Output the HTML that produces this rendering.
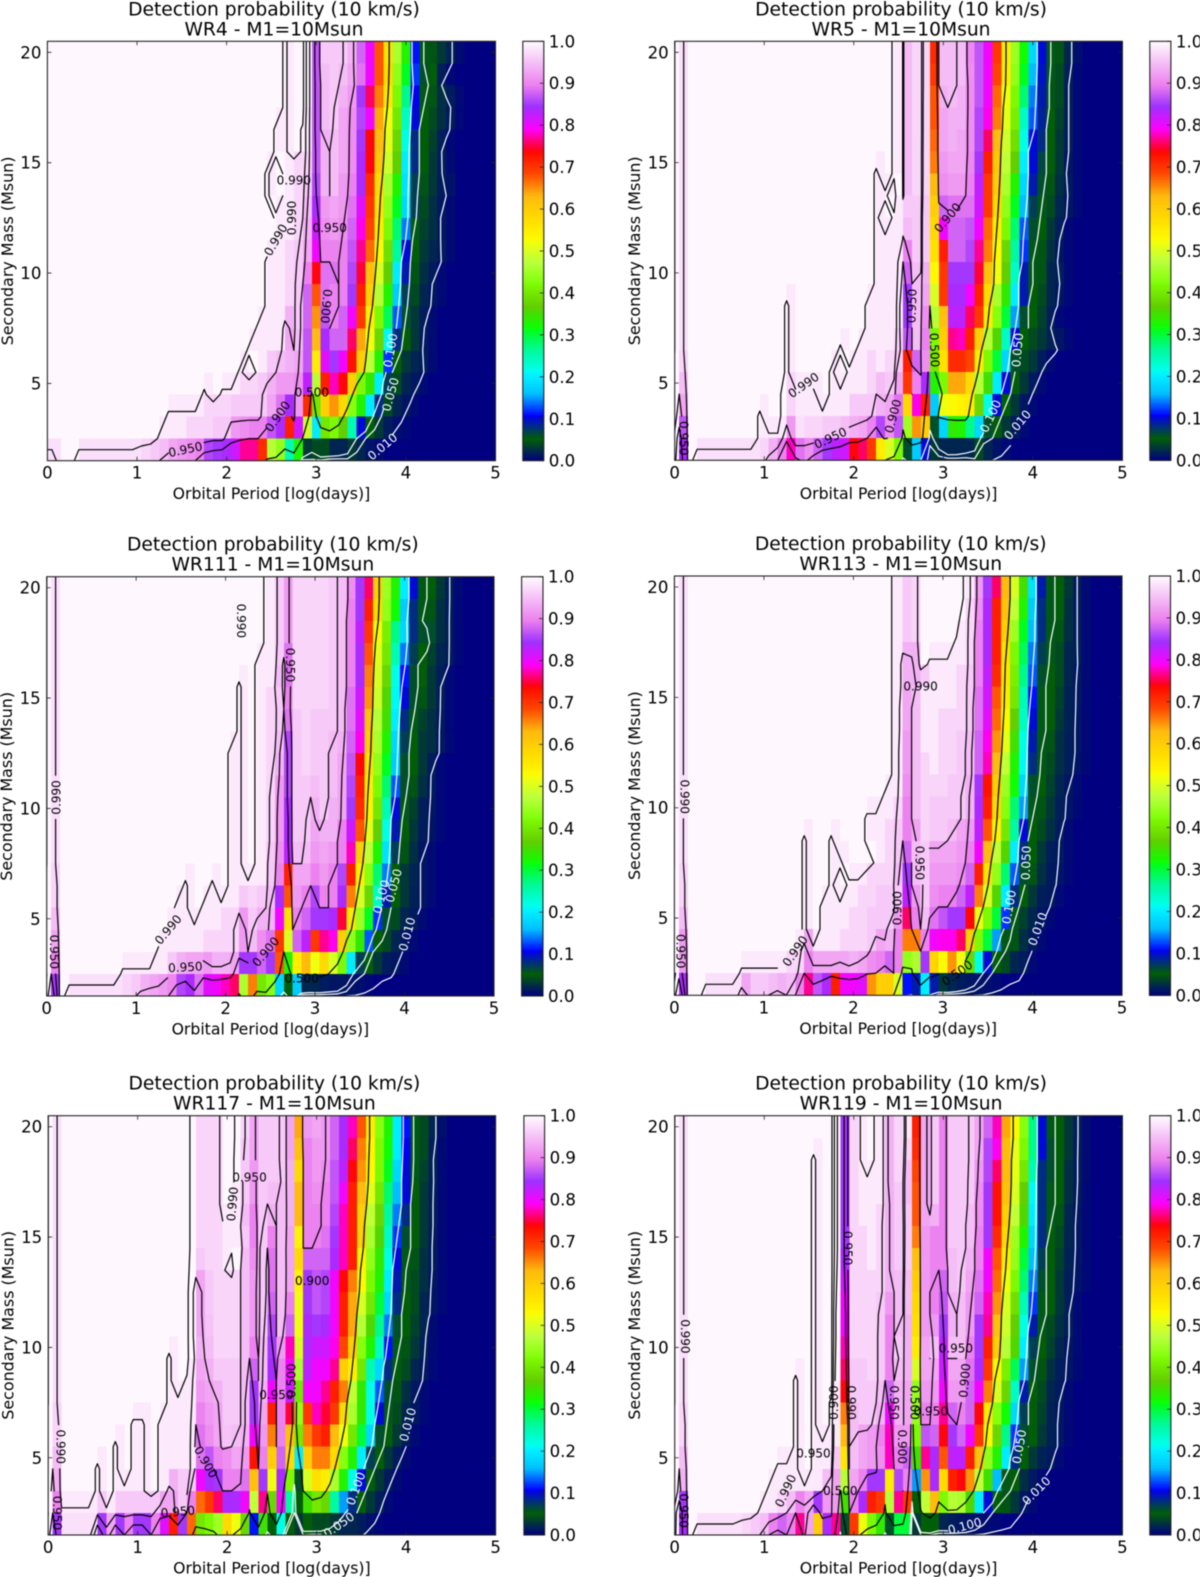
<!DOCTYPE html>
<html lang="en">
<head>
<meta charset="utf-8">
<title>Detection probability maps</title>
<style>
html,body{margin:0;padding:0;background:#fff;width:1200px;height:1577px;overflow:hidden}
svg{display:block;filter:blur(.4px)}
text{font-family:"DejaVu Sans","Liberation Sans",sans-serif;fill:#000}
</style>
</head>
<body>
<svg id="figure" xmlns="http://www.w3.org/2000/svg" width="1200" height="1577" viewBox="0 0 1200 1577"></svg>
<script>
const periods=[0,.1,.2,.3,.4,.5,.6,.7,.8,.9,1,1.1,1.2,1.3,1.4,1.5,1.6,1.7,1.8,1.9,2,2.1,2.2,2.3,2.4,2.5,2.6,2.7,2.8,2.9,3,3.1,3.2,3.3,3.4,3.5,3.6,3.7,3.8,3.9,4,4.1,4.2,4.3,4.4,4.5,4.6,4.7,4.8,4.9,5];
const masses=[20,19,18,17,16,15,14,13,12,11,10,9,8,7,6,5,4,3,2];
const xTicks=[0,1,2,3,4,5];
const yTicks=[5,10,15,20];
const colorbarTicks=["0.0","0.1","0.2","0.3","0.4","0.5","0.6","0.7","0.8","0.9","1.0"];
const contourLevels=[1,5,10,50,90,95,99];
const wr4Values=[
[100,100,100,100,100,100,100,100,100,100, 100,100,100,100,100,100,100,100,100,100, 100,100,100,100,100,100,100,98.7,100,100, 87,96,96,96,94,88,80,68,57,46, 33,11,5.5,4.5,3,1.8,.6],
[100,100,100,100,100,100,100,100,100,100, 100,100,100,100,100,100,100,100,100,100, 100,100,100,100,100,100,100,98.7,100,100, 87,95,96,95,93,89,80,68,58,44, 31,12,6,5,1.6,.4],
[100,100,100,100,100,100,100,100,100,100, 100,100,100,100,100,100,100,100,100,100, 100,100,100,100,100,100,100,98.7,100,100, 87,95,96,94,92,85,76,66,56,42, 27,10.5,5.5,4.5,2.5,1.5,.5],
[100,100,100,100,100,100,100,100,100,100, 100,100,100,100,100,100,100,100,100,100, 100,100,100,100,100,100,98.7,98.7,100,98.7, 87,95,96,93,91,86,80,64,52,40, 24,10,5,4,2.5,1.4,.4],
[100,100,100,100,100,100,100,100,100,100, 100,100,100,100,100,100,100,100,100,100, 100,100,100,100,100,100,98.7,98.7,100,98.7, 87,94,95,93,91,85,74,63,51,38, 22,8,5,3.5,1.6,.4],
[100,100,100,100,100,100,100,100,100,100, 100,100,100,100,100,100,100,100,100,100, 100,100,100,100,100,98.7,100,98.7,97,97, 87,94,95,93,91,84,74,61,49,37, 20,8,5,3,1.6,.5],
[100,100,100,100,100,100,100,100,100,100, 100,100,100,100,100,100,100,100,100,100, 100,100,100,100,100,98.7,100,98.7,97,96, 86,94,95,92,90,84,71,58,46,33, 19,7,4.5,3,1.5,1],
[100,100,100,100,100,100,100,100,100,100, 100,100,100,100,100,100,100,100,100,100, 100,100,100,100,100,100,98.7,98.7,97,95, 84,92,93,92,89,81,70,57,44,31, 18,7,4,2.5,1.3,.5],
[100,100,100,100,100,100,100,100,100,100, 100,100,100,100,100,100,100,100,100,100, 100,100,100,100,100,100,98.7,98.7,97,94, 82,91,92,91,88,79,69,55,42,28, 14,5.5,3.5,2.5,1.3,.5],
[100,100,100,100,100,100,100,100,100,100, 100,100,100,100,100,100,100,100,100,100, 100,100,100,100,100,98.7,98.7,97,96,93, 80,90,90,90,87,77,67,53,39,26, 10,5,3,2,1.4,.5],
[100,100,100,100,100,100,100,100,100,100, 100,100,100,100,100,100,100,100,100,100, 100,100,100,100,100,98.7,98.7,97,96,90, 74,89,89,90,86,75,62,50,37,20, 9,4.5,2.5,1.4,.5],
[100,100,100,100,100,100,100,100,100,100, 100,100,100,100,100,100,100,100,100,100, 100,100,100,100,100,98.7,98.7,97,96,88, 68,89,90,90,85,72,60,47,33,17, 7,4,2,1.2,.5],
[100,100,100,100,100,100,100,100,100,100, 100,100,100,100,100,100,100,100,100,100, 100,100,100,100,98.7,98.7,98.7,94,96,88, 65,87,90,88,80,70,55,42,29,13, 6,3,1.5,.6],
[100,100,100,100,100,100,100,100,100,100, 100,100,100,100,100,100,100,100,100,100, 100,100,100,98.7,98.7,98.7,98.7,93,95,87, 63,84,88,88,76,64,52,38,21,8, 5,3,1.3,.5],
[100,100,100,100,100,100,100,100,100,100, 100,100,100,100,100,100,100,100,100,100, 100,100,98.7,100,98.7,96,95,94,93,87, 55,81,85,80,73,60,48,33,12,5, 3,2,1.5,.5],
[100,100,100,100,100,100,100,100,100,100, 100,100,100,100,100,100,100,100,98.7,100, 98.7,98.7,97,97,96,94,92,92,91,83, 47,72,78,74,60,42,34,20,7,4, 2,1.3,.5],
[100,100,100,100,100,100,100,100,100,100, 100,100,100,100,98.7,98.7,98.7,98.7,97,97, 97,96,96,96,96,93,89,84,92,71, 40,60,65,58,43,33,20,8,4,2, 1.2,.5],
[100,100,100,100,100,100,100,100,100,100, 100,100,100,98.7,98.7,98.7,97,97,97,96, 96,92,91,90,90,87,84,72,82,49, 20,40,42,37,25,10,5,3,1.5,.8, .4],
[98,98,100,100,98,98,98,98,98,98, 98,97,96,95,93,92,91,90,86,85, 84,82,77,77,71,47,44,25,33,3, 4,4,2,2,3,2,1,.5]
];
const wr5Values=[
[100,98,100,100,100,100,100,100,100,100, 100,100,100,100,100,100,100,100,100,100, 100,100,100,100,100,98.7,94.8,97,97,71, 95,95,95,90.5,87,80,70,55,45,32, 18,10,5.5,4.5,2,.8],
[100,98,100,100,100,100,100,100,100,100, 100,100,100,100,100,100,100,100,100,100, 100,100,100,100,100,98.7,94.8,97,97,70, 95,95,95,91,87,80,69,55,44,31, 16,9.5,5.5,4,1.6,.4],
[100,98,100,100,100,100,100,100,100,100, 100,100,100,100,100,100,100,100,100,100, 100,100,100,100,100,98.7,94.8,97,97,68, 94,95,94,91,87,80,67,52,42,28, 14,9,5.5,4,1.6,.4],
[100,98,100,100,100,100,100,100,100,100, 100,100,100,100,100,100,100,100,100,100, 100,100,100,100,100,98.7,94.8,97,97,68, 93,94,94,91,86,79,66,51,41,24, 13,8.5,5,3.5,1.6,.4],
[100,98,100,100,100,100,100,100,100,100, 100,100,100,100,100,100,100,100,100,100, 100,100,100,100,100,98.7,94.8,97,97,67, 93,94,93,91,86,76,63,49,39,22, 10,8,5,3,1.6,.4],
[100,98,100,100,100,100,100,100,100,100, 100,100,100,100,100,100,100,100,100,100, 100,100,100,98.7,100,98.7,94.8,97,97,66, 92,93,93,90.5,85,72,61,48,37,20, 10,6.5,5,3,1.2,.4],
[100,98,100,100,100,100,100,100,100,100, 100,100,100,100,100,100,100,100,100,100, 100,100,100,98.7,98.7,100,94.8,97,97,63, 91,92,92,90,83,70,60,46,33,18, 9,6,4.5,2.5,1.4,.4],
[100,98,100,100,100,100,100,100,100,100, 100,100,100,100,100,100,100,100,100,100, 100,100,100,98.7,100,98.7,96,96,96,60, 88,89,89,89,82,70,58,44,31,16, 7,5.5,4,2,1.2,.4],
[100,98,100,100,100,100,100,100,100,100, 100,100,100,100,100,100,100,100,100,100, 100,100,100,98.7,98.7,98.7,94.8,96,96,58, 80,88,88,87,80,67,55,42,28,13, 6,5,3,1.6,.4],
[100,98,100,100,100,100,100,100,100,100, 100,100,100,100,100,100,100,100,100,100, 100,100,100,98.7,98.7,98.7,90,96,96,57, 72,88,88,86,77,66,53,38,26,12, 5.5,4.5,2.5,1.2,.4],
[100,98,100,100,100,100,100,100,100,100, 100,100,100,100,100,100,100,100,100,100, 100,100,100,98.7,98.7,98.7,88,95,94,53, 70,85,85,85,75,62,52,37,24,9, 5.5,4.5,2,1.6,.4],
[100,98,100,100,100,100,100,100,100,100, 100,100,100,98.7,100,100,100,100,100,100, 100,100,98.7,98.7,98.7,98.7,85,95,93,50, 70,84,84,80,72,58,46,34,20,9, 5,4,2,1.2,.4],
[100,98,100,100,100,100,100,100,100,100, 100,100,100,98.7,100,100,100,100,100,100, 100,100,98.7,98.7,98.7,98.7,85,95,91,47, 62,83,83,76,70,55,43,30,15,6, 5,3.5,1.6,.4],
[100,98,100,100,100,100,100,100,100,100, 100,100,100,98.7,100,100,100,100,100,98.7, 100,98.7,98.7,98.7,98.7,97,87,95,90,42, 60,77,78,72,60,47,36,24,10,5, 4,3,1.8,1.2,.4],
[100,97,100,100,100,100,100,100,100,100, 100,100,100,98.7,100,100,100,100,98.7,100, 98.7,98.7,97,98.7,97,96,72,88,91,40, 57,71,71,69,55,42,30,18,6,4, 3,1.5,.5],
[100,95,100,100,100,100,100,100,100,100, 100,100,100,97,98.7,98.7,98.7,100,98.7,98.7, 98.7,98.7,97,95,96,93,70,90,84,33, 42,64,64,58,47,35,20,10,5,3, 1.4,.5],
[100,93,100,100,100,100,100,100,100,100, 98.7,100,100,97,98.7,98.7,98.7,98.7,98.7,98.7, 96,96,96,94,93,89,58,79,72,17, 52,53,54,55,38,22,10,5,3,1.2, .5],
[100,87,100,100,100,100,100,100,100,100, 98.7,98.7,98.7,92,98,97,97,96,96,95, 94,93,90,86,91,87,45,65,60,6, 18,34,33,27,18,6,5,3,1.5,.5],
[100,84,100,98,98,98,98,98,98,98, 97,94,90,78,89,91,88,85,83,82, 74,76,70,55,50,42,6,17,10,3, 2,2,2,2,4,2,1,.5]
];
const wr111Values=[
[100,98,100,100,100,100,100,100,100,100, 100,100,100,100,100,100,100,100,100,100, 100,100,100,100,100,98.7,96,92,97,97, 97,97,96,95,91,85,76,60,45,33, 20,10,5.5,5,3,1.6,.5],
[100,98,100,100,100,100,100,100,100,100, 100,100,100,100,100,100,100,100,100,100, 100,100,100,100,100,98.7,96,92,97,97, 97,97,96,95,90,85,72,58,44,32, 17,8,5.5,4.5,2.5,1.6,.4],
[100,98,100,100,100,100,100,100,100,100, 100,100,100,100,100,100,100,100,100,100, 100,100,100,100,100,98.7,96,92,97,97, 97,97,96,95,90,83,70,53,41,27, 18,8,6,6,2.5,1.6,.4],
[100,98,100,100,100,100,100,100,100,100, 100,100,100,100,100,100,100,100,100,100, 100,100,100,100,98.7,98.7,96,89,97,97, 97,97,96,95,90,84,68,51,40,25, 14,7,5,3.5,2,1.5,.4],
[100,98,100,100,100,100,100,100,100,100, 100,100,100,100,100,100,100,100,100,100, 100,100,98.7,100,98.7,98.7,95,89,97,97, 97,97,96,95,90,84,66,50,38,22, 11,6,5,3,1.6,.5],
[100,98,100,100,100,100,100,100,100,100, 100,100,100,100,100,100,100,100,100,100, 100,100,98.7,100,98.7,97,96,90,97,97, 97,97,96,95,89,82,65,49,36,21, 10,6,4.5,3,1.6,.4],
[100,98,100,100,100,100,100,100,100,100, 100,100,100,100,100,100,100,100,100,100, 100,100,98.7,100,98.7,97,96,89,96,97, 96,96,96,95,89,81,62,47,35,20, 8,5.5,3.5,2.5,1.4,.4],
[100,98,100,100,100,100,100,100,100,100, 100,100,100,100,100,100,100,100,100,100, 100,98.7,98.7,100,98.7,97,95,86,96,97, 96,96,95,94,88,79,60,46,33,18, 7,5,3,2.5,1.3,.5],
[100,98,100,100,100,100,100,100,100,100, 100,100,100,100,100,100,100,100,100,100, 100,98.7,98.7,100,98.7,97,94,86,96,97, 96,96,95,93,87,74,57,44,31,17, 6,5,3,1.5,.4],
[100,98,100,100,100,100,100,100,100,100, 100,100,100,100,100,100,100,100,100,100, 100,98.7,98.7,100,98.7,97,92,86,96,96, 95,96,95,93,86,72,55,42,28,13, 6,4.5,2.5,1.4,.4],
[100,98,100,100,100,100,100,100,100,100, 100,100,100,100,100,100,100,100,100,100, 100,98.7,98.7,100,98.7,97,92,84,96,96, 94,96,94,93,85,71,54,40,25,10, 5.5,3.5,1.6,1.2,.4],
[100,98,100,100,100,100,100,100,100,100, 100,100,100,100,100,100,100,100,100,100, 100,98.7,98.7,100,98.7,97,92,84,96,96, 93,94,94,90,82,68,51,37,22,9, 5,3,1.5,1.1,.4],
[100,98,100,100,100,100,100,100,100,100, 100,100,100,100,100,100,100,100,100,100, 100,98.7,98.7,100,98.7,96,91,83,95,95, 92,93,92,90,78,60,48,33,19,7, 4.5,2.5,1.2,.5],
[100,97,100,100,100,100,100,100,100,100, 100,100,100,100,100,100,98.7,100,100,98.7, 100,98.7,98.7,98.7,98.7,96,90,72,93,93, 90,92,90,86,72,55,43,28,14,5, 3,2,1.2,.5],
[100,97,100,100,100,100,100,100,100,100, 100,100,100,100,100,98.7,98.7,100,98.7,98.7, 98.7,98.7,96,97,96,95,84,68,92,90, 86,90,90,84,66,50,38,24,9,5, 3,1.8,1.2,.5],
[100,95,100,100,100,100,100,100,100,100, 100,100,100,100,98.7,98.7,98.7,98.7,98.7,98.7, 97,97,92,96,94,94,80,57,90,88, 85,85,84,75,56,45,31,12,6,4, 2,1.4,.5],
[100,93,100,100,100,100,100,100,100,100, 100,100,100,98.7,98.7,98.7,98.7,98.7,97,97, 97,97,92,95,91,89,70,50,88,83, 70,77,79,60,44,34,13,5,4,2, 1.2,.5],
[100,90,100,100,100,100,100,100,100,98.7, 98.7,98.7,98.7,98.7,96,94,93,93,92,94, 94,93,85,85,88,85,68,33,55,63, 52,58,50,42,20,7,5,3,1.5,1.2, .5],
[100,85,100,98,98,98,98,98,98,97, 96,94,93,92,90.5,86,84,89,81,80, 78,76,46,66,40,43,18,5,17,2, 2,1.5,1.2,1.2,1,.8,.4]
];
const wr113Values=[
[100,98,100,100,100,100,100,100,100,100, 100,100,100,100,100,100,100,100,100,100, 100,100,100,100,100,98.7,96,97,100,100, 100,100,100,98.7,92,85,76,63,50,35, 19,9,5.5,5,3,1.5,.5],
[100,98,100,100,100,100,100,100,100,100, 100,100,100,100,100,100,100,100,100,100, 100,100,100,100,100,98.7,96,97,100,100, 100,100,100,97,91,84,72,62,48,33, 17,8,5.5,5,2.5,1.5,.5],
[100,98,100,100,100,100,100,100,100,100, 100,100,100,100,100,100,100,100,100,100, 100,100,100,100,100,98.7,96,97,100,100, 100,100,98.7,97,90,84,72,60,45,31, 16,8,5.5,4.5,2.5,1.5,.5],
[100,98,100,100,100,100,100,100,100,100, 100,100,100,100,100,100,100,100,100,100, 100,100,100,100,100,98.7,94,94,100,98.7, 98.7,98.7,98.7,97,90,84,72,57,42,29, 14,7,5.5,4,2,1.6,.5],
[100,98,100,100,100,100,100,100,100,100, 100,100,100,100,100,100,100,100,100,100, 100,100,100,100,100,98.7,94,94,96,98.7, 98.7,98.7,97,96,90,83,71,56,41,27, 13,6,5,4,2,1.3,.5],
[100,98,100,100,100,100,100,100,100,100, 100,100,100,100,100,100,100,100,100,100, 100,100,100,100,100,98.7,93,95,98.7,98.7, 98.7,98.7,97,96,89,82,68,55,40,25, 11,5.5,5,3.5,1.8,1.3,.4],
[100,98,100,100,100,100,100,100,100,100, 100,100,100,100,100,100,100,100,100,100, 100,100,100,100,100,98.7,93,95,98.7,98.7, 97,97,97,96,89,81,67,53,37,24, 10,5.5,5,3,1.8,1.2,.4],
[100,98,100,100,100,100,100,100,100,100, 100,100,100,100,100,100,100,100,100,100, 100,100,100,100,100,98.7,92,95,98.7,98.7, 97,97,96,95,88,79,65,51,35,22, 9,5.5,4.5,2.5,1.6,1.2,.4],
[100,98,100,100,100,100,100,100,100,100, 100,100,100,100,100,100,100,100,100,100, 100,100,100,100,100,98.7,92,95,97,98.7, 97,97,96,95,88,78,63,48,33,21, 8,5.5,4,2.5,1.6,1,.4],
[100,98,100,100,100,100,100,100,100,100, 100,100,100,100,100,100,100,100,100,100, 100,100,100,100,98.7,98.7,91,95,97,97, 97,96,96,94,85,73,60,45,32,18, 6,5,3.5,2,1.2,.5],
[100,98,100,100,100,100,100,100,100,100, 100,100,100,100,100,100,100,100,100,100, 100,100,98.7,98.7,98.7,97,90,95,97,96, 96,96,96,94,84,72,58,43,28,15, 5.5,4.5,3,1.6,1.1,.4],
[100,98,100,100,100,100,100,100,100,100, 100,100,100,100,100,98.7,100,100,98.7,100, 100,100,98.7,98.7,97,96,90,93,97,96, 96,95,93,92,83,68,54,40,26,10, 5,4,2.5,1.5,.5],
[100,98,100,100,100,100,100,100,100,100, 100,100,100,100,100,98.7,100,100,98.7,98.7, 100,100,100,98.7,97,96,88,95,96,93, 93,93,92,90,80,63,48,36,20,8, 5,3,1.6,1.3,.5],
[100,97,100,100,100,100,100,100,100,100, 100,100,100,100,100,98.7,100,100,98.7,100, 98.7,98.7,97,97,97,95,85,95,96,92, 92,92,91,88,72,57,44,28,13,6, 4.5,2.5,1.4,1.1,.4],
[100,97,100,100,100,100,100,100,100,100, 100,100,100,100,100,98.7,100,98.7,98.7,98.7, 98.7,97,97,96,96,96,83,92,96,91, 90,90,88,83,66,50,36,20,8,5, 3,1.6,1.4,.5],
[100,95,100,100,100,100,100,100,100,100, 100,100,100,100,100,98.7,100,98.7,98.7,98.7, 97,97,96,96,96,92,76,90,95,89, 87,85,85,74,52,42,30,12,5.5,3.5, 2,1.2,.4],
[100,92,100,100,100,100,100,100,100,100, 100,100,100,100,98.7,93,98.7,98.7,98.7,97, 97,97,96,93,94,90,66,66,90,80, 79,79,76,60,42,30,15,5.5,4.5,2.5, 1.4,.5],
[100,92,100,100,100,100,100,100,98.7,98.7, 98.7,98.7,98.7,97,97,90,93,93,93,93, 94,93,91,90,88,90,44,46,85,59, 53,65,52,38,22,10,5,4,2,1.5, .5],
[100,84,100,100,98,98,98,98,93,96, 96,95,94,95,90,77,87,84,72,80, 80,81,65,60,60,50,11,9,20,9, 3,2,1.5,1.2,1,.8,.5]
];
const wr117Values=[
[100,98,100,100,100,100,100,100,100,100, 100,100,100,100,100,100,100,97,97,97, 100,100,97,93,96,96,96,93,64,92, 93,92,88,84,78,68,55,43,33,20, 11,5.5,4,2,.8],
[100,98,100,100,100,100,100,100,100,100, 100,100,100,100,100,100,100,97,97,97, 100,100,96,93,96,96,96,93,62,90, 92,92,88,84,76,66,54,42,32,20, 10.5,5.5,4,1.6,.5],
[100,98,100,100,100,100,100,100,100,100, 100,100,100,100,100,100,100,97,97,97, 100,100,96,92,96,96,96,94,58,90, 92,91,87,83,74,65,53,42,31,18, 10,5.5,3.5,1.8,.4],
[100,98,100,100,100,100,100,100,100,100, 100,100,100,100,100,100,100,97,97,97, 100,98.7,96,92,96,95,95,94,63,90, 91,90,87,80,72,63,51,40,28,16, 10,5,3,1.6,.4],
[100,98,100,100,100,100,100,100,100,100, 100,100,100,100,100,100,100,97,97,97, 98.7,98.7,95,90,96,94,95,94,63,90, 90,90,86,78,72,60,48,38,26,14, 8,5,3,1.6,.4],
[100,98,100,100,100,100,100,100,100,100, 100,100,100,100,100,100,100,97,97,97, 98.7,98.7,96,90,96,90,95,93,54,90, 90,89,85,78,72,60,46,36,24,12, 6,5,3,1.4,.4],
[100,98,100,100,100,100,100,100,100,100, 100,100,100,100,100,100,100,96,97,97, 98.7,100,95,91,96,89,95,93,58,88, 88,88,84,78,72,54,44,34,22,10, 5.5,4.5,2.5,1.4,.4],
[100,98,100,100,100,100,100,100,100,100, 100,100,100,100,100,100,100,93,96,97, 97,97,95,92,96,89,95,93,54,85, 87,86,80,74,66,53,42,33,20,9, 5.5,4,2.5,1.2,.4],
[100,98,100,100,100,100,100,100,100,100, 100,100,100,100,100,100,100,93,96,97, 97,97,95,92,96,88,95,90,52,85, 87,86,80,72,64,50,40,30,18,8, 5,4,2,1.1,.4],
[100,98,100,100,100,100,100,100,100,100, 100,100,100,100,100,100,100,93,95.5,97, 97,97,95,92,96,86,95,88,52,84, 85,84,80,72,64,47,36,27,14,6, 5,3.5,2,.6],
[100,98,100,100,100,100,100,100,100,100, 100,100,100,100,98.7,100,100,94,95,97, 97,97,95,90,95,85,92,78,50,84, 82,82,79,69,60,43,33,24,11,5.5, 4.5,3,1.6,.5],
[100,98,100,100,100,100,100,100,100,100, 100,100,100,100,98.7,100,98.7,93,94,96, 96,96,95,88,95,84,90,80,46,83, 80,80,77,60,55,40,25,18,8,5, 4,2,1.3,.4],
[100,98,100,100,100,100,100,100,100,100, 100,100,100,100,98.7,98.7,98.7,92,93,94, 96,96,95,85,94,80,90,82,40,80, 80,77,72,66,48,34,22,13,6,4.5, 2.5,1.3,.5],
[100,97,100,100,100,100,100,100,100,100, 98.7,98.7,100,98.7,98.7,98.7,98.7,90,92,93, 96,96,95,85,93,72,90,75,44,70, 78,75,70,58,46,34,22,10,5.5,4, 2,1.3,.4],
[100,97,100,100,100,100,100,100,98.7,100, 98.7,98.7,100,98.7,98.7,98.7,98.7,89,91,93, 95.5,95,94,80,92,66,90,62,40,66, 70,72,63,52,40,30,18,6,5,3, 1.5,.5],
[100,95,100,100,100,100,98.7,100,98.7,100, 98.7,98.7,100,98.7,98.7,98.7,98.7,89,87,90, 91,93,92,73,90,60,88,58,20,60, 66,66,58,43,33,20,7,5,3,1.4, .5],
[100,94,100,100,100,100,98.7,100,98.7,98.7, 98.7,98.7,100,98.7,94,96,96,80,84,85, 90,90,89,62,85,52,84,42,6,50, 57,55,46,33,22,10,5,3,1.4,.5],
[100,90,98.7,98.7,98.7,98.7,96,98.7,96,96, 96,96,96,93,93,96,90,67,70,76, 84,84,80,48,77,38,80,26,5,35, 40,38,26,15,8,5,3,1.6,.5],
[100,85,98,98,98,98,85,93,85,90, 85,85,90,81,72,85,67,40,42,45, 58,52,38,11,35,5,22,5,3,5, 4,4,3,2,2,1.5,.8,.3]
];
const wr119Values=[
[100,98,100,100,100,100,100,100,100,100, 100,100,100,100,100,100,100,100,100,85, 97,98.7,100,98.7,94,97,98.7,72,93,96, 90,96,96,96,93,88,78,64,53,43, 27,10,5.5,5,3,1.6,.5],
[100,98,100,100,100,100,100,100,100,100, 100,100,100,100,100,100,98.7,100,100,85, 97,98.7,100,98.7,94,97,97,71,93,96, 90,96,96,96,93,86,79,63,51,42, 27,10,6,5,3,1.5,.5],
[100,98,100,100,100,100,100,100,100,100, 100,100,100,100,100,100,98.7,100,100,85, 97,98.7,98.7,98.7,94,97,95,69,93,96, 90,96,96,96,92,86,76,63,51,40, 25,8,6,5,2.5,1.5,.5],
[100,98,100,100,100,100,100,100,100,100, 100,100,100,100,100,100,98.7,100,100,85, 97,98.7,98.7,98.7,94,96,95,68,93,96, 90,96,96,96,91,85,73,62,50,37, 21,8,5.5,5,2.5,1.4,.4],
[100,98,100,100,100,100,100,100,100,100, 100,100,100,100,100,100,98.7,100,100,85, 97,98.7,98.7,97,94,96,96,68,93,94, 90,96,96,95,91,85,73,60,48,36, 20,8,5.5,4.5,2,1.2,.4],
[100,98,100,100,100,100,100,100,100,100, 100,100,100,100,100,100,98.7,100,100,85, 97,97,98.7,97,94,96,96,66,92,90, 90,96,96,95,90,85,71,58,45,33, 18,8,5,4,2,1.2,.4],
[100,98,100,100,100,100,100,100,100,100, 100,100,100,100,100,100,98.7,100,100,84, 97,97,98.7,97,94,96,96,62,92,90, 90,95,96,94,90,80,68,55,44,30, 16,7,5,3.5,1.8,1.1,.4],
[100,98,100,100,100,100,100,100,100,100, 100,100,100,100,100,100,98.7,100,100,82, 97,97,97,97,94,95,95,60,92,90, 88,95,96,93,89,80,67,52,42,28, 14,6,5,3,1.6,1,.4],
[100,98,100,100,100,100,100,100,100,100, 100,100,100,100,100,100,98.7,100,100,80, 97,97,97,96,92,95,95,58,92,90, 87,94,95,92,88,78,65,50,39,25, 12,5.5,5,3,1.6,.5],
[100,98,100,100,100,100,100,100,100,100, 100,100,100,100,100,100,98.7,100,100,80, 97,97,97,96,90,95,94,57,92,92, 85,94,95,92,85,77,62,49,37,22, 9,5.5,4,2.5,1.6,.5],
[100,98,100,100,100,100,100,100,100,100, 100,100,100,100,100,100,98.7,100,100,78, 97,97,97,96,90,96,94,55,93,95, 83,95,95,90,85,72,60,47,36,20, 7,5,3.5,2,1.2,.5],
[100,98,100,100,100,100,100,100,100,100, 100,100,100,100,98.7,100,98.7,100,100,76, 96,96,97,96,90,95,94,50,93,93, 82,93,93,89,84,70,53,41,29,15, 6,4.5,2.5,1.5,1.1,.4],
[100,98,100,100,100,100,100,100,100,100, 100,100,100,100,98.7,100,98.7,100,98.7,74, 96,96,96,95,88,94,93,44,92,92, 80,92,92,88,80,66,50,38,24,9, 5,4,2,1.4,.5],
[100,97,100,100,100,100,100,100,100,100, 100,100,100,100,98.7,100,98.7,100,98.7,66, 95,96,96,94,80,94,93,44,90,90, 77,88,90,88,74,56,43,32,18,7, 5,3.5,1.8,1.2,.4],
[100,97,100,100,100,100,100,100,100,100, 100,100,100,100,98.7,100,98.7,98.7,98.7,63, 95,93,92,90,78,92,92,42,87,88, 74,85,88,80,70,53,38,27,12,6, 5,3,1.8,1.2,.4],
[100,95,100,100,100,100,100,100,100,100, 100,100,98.7,98.7,98.7,100,98.7,98.7,96,56, 95,93,92,91,78,90,88,35,77,84, 68,83,83,72,62,44,33,20,8,5, 3,1.8,1.4,.5],
[100,94,100,100,100,100,100,100,100,100, 100,98.7,98.7,98.7,98.7,98.7,98.7,95,93,47, 93,90,85,85,55,86,90,15,65,84, 58,72,74,65,48,35,16,5.5,5,2.5, 1.3,.5],
[100,85,100,100,100,100,100,100,100,100, 98.7,98.7,97,95,90,93,85,92,92,35, 90,84,72,70,47,77,70,5,48,63, 42,47,46,36,20,10,5,4.5,3,1.2, .5],
[100,84,100,98,98,98,98,98,97,96, 95,90,88,90,77,93,60,84,77,6, 70,52,42,34,6,30,30,3,5,5, 2,1.5,1.2,1,.8,.6,.4]
];
const wr4Labels=[["0.990",2.75,14.2,0],["0.990",2.73,12.5,-90],["0.990",2.55,11.5,-60],["0.950",3.15,12.05,0],["0.900",3.11,8.5,95],["0.500",2.95,4.6,0],["0.900",2.57,3.5,-55],["0.950",1.54,2,-12],["0.100",3.83,6.5,-80],["0.050",3.83,4.5,-75],["0.010",3.74,2.13,-40]];
const wr5Labels=[["0.950",.1,2.5,90],["0.990",1.44,4.9,-35],["0.950",1.74,2.5,-25],["0.900",2.44,3.5,-75],["0.950",2.65,8.5,-88],["0.900",3.05,12.5,-50],["0.500",2.9,6.5,88],["0.100",3.53,3.5,-65],["0.050",3.83,6.5,-85],["0.010",3.83,3.1,-50]];
const wr111Labels=[["0.990",.11,10.5,-90],["0.950",.08,3.5,90],["0.990",2.17,18.5,90],["0.950",2.72,16.5,90],["0.990",1.36,4.5,-50],["0.950",1.55,2.8,-3],["0.900",2.45,3.5,-50],["0.500",2.85,2.3,0],["0.100",3.74,6,-75],["0.050",3.88,6.5,-75],["0.010",4.03,4.3,-75]];
const wr113Labels=[["0.990",.115,10.5,90],["0.950",.07,3.5,90],["0.990",2.75,15.5,0],["0.950",2.74,7.5,90],["0.900",2.49,5.45,-90],["0.990",1.35,3.5,-55],["0.500",3.16,2.5,-35],["0.100",3.74,5.5,-80],["0.050",3.93,7.5,-88],["0.010",4.06,4.5,-70]];
const wr117Labels=[["0.950",2.25,17.7,0],["0.990",2.06,16.5,-85],["0.900",2.95,13,0],["0.950",2.55,7.85,0],["0.500",2.72,8.5,-90],["0.990",.14,5.5,90],["0.950",.1,2.5,90],["0.900",1.76,4.8,60],["0.950",1.45,2.55,-5],["0.100",3.44,3.6,-70],["0.050",3.25,1.95,-35],["0.010",4.02,6.5,-75]];
const wr119Labels=[["0.990",.115,10.5,90],["0.950",.1,2.6,90],["0.950",1.93,14.5,90],["0.900",1.78,7.5,-90],["0.990",1.97,7.5,90],["0.990",1.24,3.5,-65],["0.950",1.55,5.2,0],["0.500",1.85,3.5,0],["0.950",2.45,7.5,90],["0.900",2.54,5.5,90],["0.500",2.68,7.5,90],["0.950",2.86,7.1,0],["0.950",3.14,9.95,0],["0.900",3.24,8.5,-85],["0.100",3.24,1.9,-15],["0.050",3.85,5.5,-80],["0.010",4.04,3.5,-45]];

const figureTitle="Detection probability (10 km/s)";
const xAxisTitle="Orbital Period [log(days)]";
const yAxisTitle="Secondary Mass (Msun)";
const panels=[
{key:"wr4",title:"WR4 - M1=10Msun",values:wr4Values,labels:wr4Labels,left:47.4,top:41.3,right:495.5,bottom:460.7,cbLeft:522.8,cbRight:543.8},
{key:"wr5",title:"WR5 - M1=10Msun",values:wr5Values,labels:wr5Labels,left:674.7,top:41.3,right:1122.4,bottom:460.3,cbLeft:1149.8,cbRight:1170.9},
{key:"wr111",title:"WR111 - M1=10Msun",values:wr111Values,labels:wr111Labels,left:46.7,top:576.7,right:494,bottom:996,cbLeft:521.6,cbRight:543},
{key:"wr113",title:"WR113 - M1=10Msun",values:wr113Values,labels:wr113Labels,left:674.4,top:576,right:1122,bottom:995.3,cbLeft:1149.4,cbRight:1170.5},
{key:"wr117",title:"WR117 - M1=10Msun",values:wr117Values,labels:wr117Labels,left:48.2,top:1115.7,right:495.6,bottom:1535,cbLeft:523.9,cbRight:544.6},
{key:"wr119",title:"WR119 - M1=10Msun",values:wr119Values,labels:wr119Labels,left:674.7,top:1115.7,right:1122.4,bottom:1535,cbLeft:1149.8,cbRight:1170.9}
];

const ncarRed=[[0,0],[.3098,0],[.3725,.3993],[.4235,.5003],[.5333,1],[.7922,1],[.8471,.6218],[.898,.9235],[1,.9961]];
const ncarGreen=[[0,0],[.051,.3722],[.1059,0],[.1569,.7202],[.1608,.7537],[.1647,.7752],[.2157,1],[.2588,.9804],[.2706,.9804],[.3176,1],[.3686,.8081],[.4275,1],[.5216,1],[.6314,.7292],[.6863,.2796],[.7451,0],[.7922,0],[.8431,.1753],[.898,.5],[1,.9725]];
const ncarBlue=[[0,.502],[.051,.0222],[.1098,1],[.2039,1],[.2627,.6145],[.3216,0],[.4157,0],[.4745,.2342],[.5333,0],[.5804,0],[.6314,.0549],[.6902,0],[.7373,0],[.7922,.9738],[.8,1],[.8431,1],[.898,.9341],[1,.9961]];

function channel(stops,t){
  for(let i=1;i<stops.length;i++){
    if(t<=stops[i][0]){
      const a=stops[i-1],b=stops[i];
      return a[1]+(b[1]-a[1])*(t-a[0])/(b[0]-a[0]);
    }
  }
  return stops[stops.length-1][1];
}
function ncarColor(t){
  t=Math.max(0,Math.min(1,t));
  return "rgb("+Math.round(channel(ncarRed,t)*255)+","+Math.round(channel(ncarGreen,t)*255)+","+Math.round(channel(ncarBlue,t)*255)+")";
}
const NS="http://www.w3.org/2000/svg";
const root=document.getElementById("figure");
function make(tag,attrs,parent){
  const el=document.createElementNS(NS,tag);
  for(const k in attrs){el.setAttribute(k,attrs[k]);}
  parent.appendChild(el);
  return el;
}
function segmentsForSquare(a,b,c,d,level,x0,x1,y0,y1){
  // corners: a(x0,y0) b(x1,y0) c(x1,y1) d(x0,y1)
  const idx=(a>=level?1:0)|(b>=level?2:0)|(c>=level?4:0)|(d>=level?8:0);
  if(idx===0||idx===15){return [];}
  const e0=()=>[x0+(x1-x0)*(level-a)/(b-a),y0];
  const e1=()=>[x1,y0+(y1-y0)*(level-b)/(c-b)];
  const e2=()=>[x0+(x1-x0)*(level-d)/(c-d),y1];
  const e3=()=>[x0,y0+(y1-y0)*(level-a)/(d-a)];
  switch(idx){
    case 1:case 14:return [[e0(),e3()]];
    case 2:case 13:return [[e0(),e1()]];
    case 3:case 12:return [[e1(),e3()]];
    case 4:case 11:return [[e1(),e2()]];
    case 6:case 9:return [[e0(),e2()]];
    case 7:case 8:return [[e2(),e3()]];
    case 5:return [[e0(),e3()],[e1(),e2()]];
    case 10:return [[e0(),e1()],[e2(),e3()]];
  }
  return [];
}
function drawPanel(panel,index){
  const xScale=p=>panel.left+(panel.right-panel.left)*p/5;
  const yScale=m=>panel.bottom-(panel.bottom-panel.top)*(m-1.5)/19;
  const group=make("g",{},root);
  
  
  const clip=make("clipPath",{id:"clip-"+panel.key},group);
  make("rect",{x:panel.left,y:panel.top,width:panel.right-panel.left,height:panel.bottom-panel.top},clip);
  const plot=make("g",{"clip-path":"url(#clip-"+panel.key+")"},group);
  
  
  const background=make("rect",{x:panel.left,y:panel.top,width:panel.right-panel.left,height:panel.bottom-panel.top,fill:ncarColor(0)},plot);
  
  
  // heatmap cells
  masses.forEach((mass,r)=>{
    const row=panel.values[r];
    periods.forEach((period,k)=>{
      const v=row[k]||0;
      if(v===0){return;}
      const x0=xScale(period-.05),x1=xScale(period+.05),y0=yScale(mass+.5),y1=yScale(mass-.5);
      const cell=make("rect",{x:x0,y:y0,width:x1-x0+.4,height:y1-y0+.4,fill:ncarColor(v/100),"shape-rendering":"crispEdges"},plot);
      
      
    });
  });
  // contour lines: nodes sit at each cell's lower-left corner
  const nodeRows=[];
  masses.forEach((mass,r)=>{nodeRows.push({mass:mass-.5,row:panel.values[r]});});
  nodeRows.unshift({mass:20.5,row:panel.values[0]});
  contourLevels.forEach(level=>{
    const gaps=panel.labels.filter(l=>Math.round(parseFloat(l[0])*100)===level);
    let d="";
    for(let r=0;r<nodeRows.length-1;r++){
      const upper=nodeRows[r],lower=nodeRows[r+1];
      for(let k=0;k<periods.length-1;k++){
        const a=lower.row[k]||0,b=lower.row[k+1]||0,c=upper.row[k+1]||0,e=upper.row[k]||0;
        const segs=segmentsForSquare(a,b,c,e,level,xScale(periods[k]-.05),xScale(periods[k+1]-.05),yScale(lower.mass),yScale(upper.mass));
        segs.forEach(s=>{
          const mx=(s[0][0]+s[1][0])/2,my=(s[0][1]+s[1][1])/2;
          const blocked=gaps.some(l=>{
            const dx=mx-xScale(l[1]),dy=my-yScale(l[2]),t=-l[3]*Math.PI/180;
            const u=dx*Math.cos(t)-dy*Math.sin(t),w=dx*Math.sin(t)+dy*Math.cos(t);
            return Math.abs(u)<18&&Math.abs(w)<8;
          });
          if(!blocked){
            d+="M"+s[0][0].toFixed(1)+" "+s[0][1].toFixed(1)+"L"+s[1][0].toFixed(1)+" "+s[1][1].toFixed(1);
          }
        });
      }
    }
    const line=make("path",{d:d,fill:"none",stroke:level<=10?"#fff":"#000","stroke-width":1.2,"stroke-linecap":"round"},plot);
    
    
  });
  // contour labels
  panel.labels.forEach(l=>{
    const x=xScale(l[1]),y=yScale(l[2]);
    const level=parseFloat(l[0])*100;
    const label=make("text",{x:x,y:y,"text-anchor":"middle","dominant-baseline":"central","font-size":12,transform:"rotate("+l[3]+" "+x+" "+y+")",style:level<=10.5?"fill:#fff":"fill:#000"},plot);
    label.textContent=l[0];
    
    
  });
  // frame
  const frame=make("rect",{x:panel.left,y:panel.top,width:panel.right-panel.left,height:panel.bottom-panel.top,fill:"none",stroke:"#222","stroke-width":1.1},group);
  
  
  // x ticks
  xTicks.forEach(t=>{
    const x=xScale(t);
    const tick=make("path",{d:"M"+x+" "+panel.bottom+"v-4M"+x+" "+panel.top+"v4",stroke:"#222","stroke-width":.8,fill:"none"},group);
    
    
    const tl=make("text",{x:x,y:panel.bottom+18,"text-anchor":"middle","font-size":16.6},group);
    tl.textContent=String(t);
    
    
  });
  // y ticks
  yTicks.forEach(t=>{
    const y=yScale(t);
    const tick=make("path",{d:"M"+panel.left+" "+y+"h4M"+panel.right+" "+y+"h-4",stroke:"#222","stroke-width":.8,fill:"none"},group);
    
    
    const tl=make("text",{x:panel.left-6,y:y+6,"text-anchor":"end","font-size":16.6},group);
    tl.textContent=String(t);
    
    
  });
  // axis titles
  const cx=(panel.left+panel.right)/2,cy=(panel.top+panel.bottom)/2;
  const xt=make("text",{x:cx,y:panel.bottom+38.5,"text-anchor":"middle","font-size":15.7},group);
  xt.textContent=xAxisTitle;
  
  
  const yt=make("text",{x:panel.left-34.5,y:cy,"text-anchor":"middle","font-size":15.9,transform:"rotate(-90 "+(panel.left-34.5)+" "+cy+")"},group);
  yt.textContent=yAxisTitle;
  
  
  // titles
  const t1=make("text",{x:cx+2.5,y:panel.top-26,"text-anchor":"middle","font-size":18.7},group);
  t1.textContent=figureTitle;
  
  
  const t2=make("text",{x:cx+2.5,y:panel.top-6,"text-anchor":"middle","font-size":18.7},group);
  t2.textContent=panel.title;
  
  
  // colorbar
  const cbGroup=make("g",{},group);
  
  
  const cbH=panel.bottom-panel.top,cbW=panel.cbRight-panel.cbLeft;
  for(let i=0;i<256;i++){
    const seg=make("rect",{x:panel.cbLeft,y:panel.bottom-(i+1)*cbH/256,width:cbW,height:cbH/256+.5,fill:ncarColor(i/255),"shape-rendering":"crispEdges"},cbGroup);
    
    
  }
  const cbFrame=make("rect",{x:panel.cbLeft,y:panel.top,width:cbW,height:cbH,fill:"none",stroke:"#222","stroke-width":1.1},cbGroup);
  
  
  colorbarTicks.forEach(label=>{
    const y=panel.bottom-parseFloat(label)*cbH;
    const tick=make("path",{d:"M"+panel.cbRight+" "+y+"h-4",stroke:"#222","stroke-width":.8,fill:"none"},cbGroup);
    
    
    const tl=make("text",{x:panel.cbRight+5,y:y+6,"font-size":16.6},cbGroup);
    tl.textContent=label;
    
    
  });
}
panels.forEach(drawPanel);
</script>
</body>
</html>
